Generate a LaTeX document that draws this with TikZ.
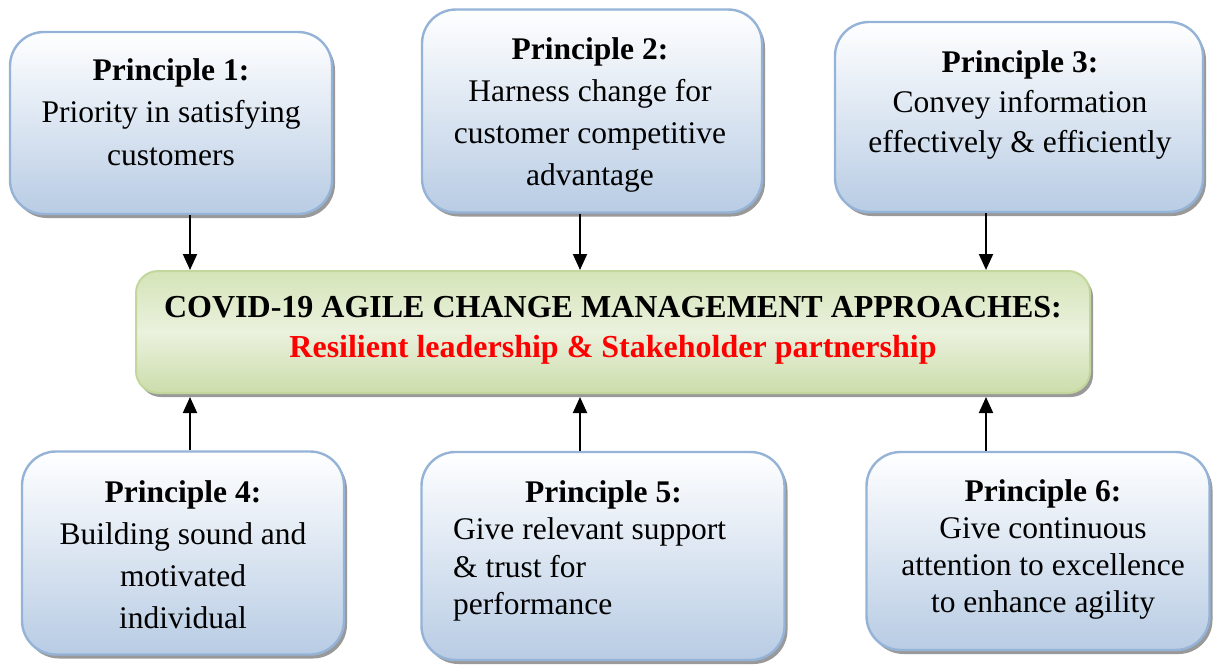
\documentclass[tikz,border=0pt]{standalone}
\usepackage{fontspec}
\setmainfont{Liberation Serif}
\usetikzlibrary{shadows,arrows.meta}
\definecolor{bborder}{HTML}{95B3D7}
\definecolor{btop}{HTML}{FFFFFF}
\definecolor{bbot}{HTML}{B8CCE4}
\definecolor{gborder}{HTML}{C3D69B}
\definecolor{gtop}{HTML}{D5E4B8}
\definecolor{gmid}{HTML}{EAF1DD}
\definecolor{gbot}{HTML}{CCDDAB}
\definecolor{redtxt}{HTML}{FF0000}
\tikzset{
  pbox/.style={draw=bborder, line width=2.4pt, rounded corners=34pt,
    top color=btop, bottom color=bbot, inner sep=0pt,
    drop shadow={shadow xshift=3pt, shadow yshift=-4pt, fill=black!50, opacity=0.8}},
  cbox/.style={draw=gborder, line width=2pt, rounded corners=22pt,
    top color=gtop, bottom color=gbot, middle color=gmid, inner sep=0pt,
    drop shadow={shadow xshift=3pt, shadow yshift=-4pt, fill=black!50, opacity=0.8}},
  ptext/.style={align=center, inner sep=0pt, font=\fontsize{31.5}{42}\selectfont},
  arr/.style={line width=2pt, -{Triangle[width=14pt,length=16pt]}}
}
\begin{document}
\begin{tikzpicture}[x=1pt,y=-1pt]
\useasboundingbox (0,0) rectangle (1217,664);
% boxes
\node[pbox, minimum width=322pt, minimum height=182pt] (p1) at (171,123) {};
\node[pbox, minimum width=340pt, minimum height=203pt] (p2) at (592,111) {};
\node[pbox, minimum width=368pt, minimum height=190pt] (p3) at (1019,117) {};
\node[cbox, minimum width=954pt, minimum height=122pt] (c) at (613,332) {};
\node[pbox, minimum width=322pt, minimum height=203pt] (p4) at (183,553) {};
\node[pbox, minimum width=363pt, minimum height=208pt] (p5) at (603,556) {};
\node[pbox, minimum width=343pt, minimum height=198pt] (p6) at (1038,551) {};
% texts
\node[ptext, font=\fontsize{31.5}{42.5}\selectfont] (t1) at (171,112) {\textbf{Principle 1:}\\Priority in satisfying\\customers};
\node[ptext, font=\fontsize{31.5}{42}\selectfont] (t2) at (590,115) {\textbf{Principle 2:}\\Harness change for\\customer competitive\\advantage};
\node[ptext, font=\fontsize{31.5}{40}\selectfont] (t3) at (1020,105) {\textbf{Principle 3:}\\Convey information\\effectively \& efficiently};
\node[ptext, font=\fontsize{31.5}{42}\selectfont] (t4) at (183,555) {\textbf{Principle 4:}\\Building sound and\\motivated\\individual};
\node[ptext, align=left, font=\fontsize{31.5}{37.5}\selectfont, anchor=west] (t5) at (453,551) {\hspace*{72pt}\textbf{Principle 5:}\\Give relevant support\\\& trust for\\performance};
\node[ptext, font=\fontsize{31.5}{36.8}\selectfont] (t6) at (1043,549.5) {\textbf{Principle 6:}\\Give continuous\\attention to excellence\\to enhance agility};
\node[ptext, font=\fontsize{32}{40}\selectfont\bfseries] (tc) at (613,330) {COVID-19 AGILE CHANGE MANAGEMENT APPROACHES:\\\textcolor{redtxt}{Resilient leadership \& Stakeholder partnership}};
% arrow x positions
\coordinate (a1) at (190,0);
\coordinate (a2) at (580,0);
\coordinate (a3) at (986,0);
\draw[arr] (p1.south -| a1) -- (c.north -| a1);
\draw[arr] (p2.south -| a2) -- (c.north -| a2);
\draw[arr] (p3.south -| a3) -- (c.north -| a3);
\draw[arr] (p4.north -| a1) -- ([yshift=-3pt]c.south -| a1);
\draw[arr] (p5.north -| a2) -- ([yshift=-3pt]c.south -| a2);
\draw[arr] (p6.north -| a3) -- ([yshift=-3pt]c.south -| a3);
\end{tikzpicture}
\end{document}
